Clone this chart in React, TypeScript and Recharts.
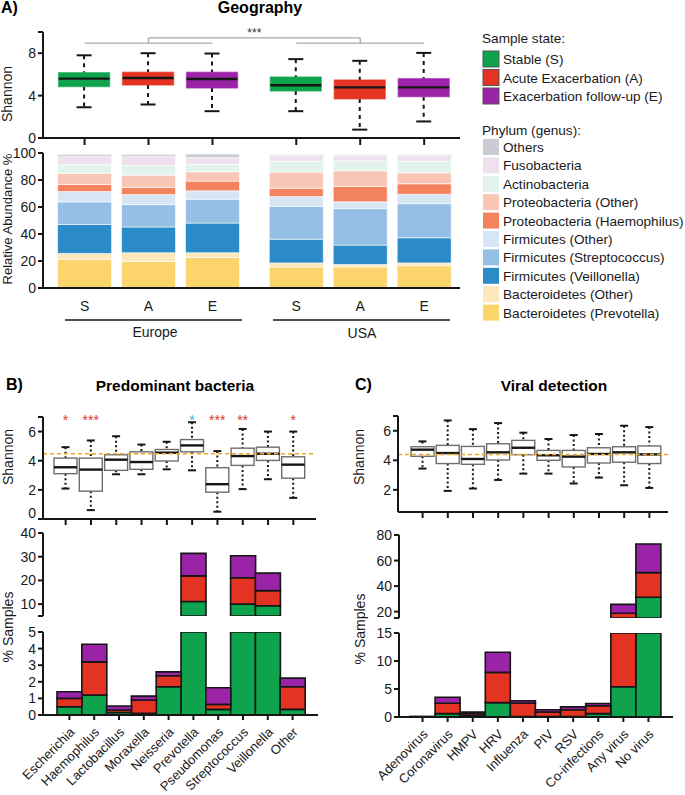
import React from 'react'
import { ComposedChart, BarChart, Bar, XAxis, YAxis, ReferenceLine } from 'recharts'

const FONT = '"Liberation Sans", Arial, Helvetica, sans-serif'

// ---------- A) Geography ----------
const geoState = ['S', 'A', 'E', 'S', 'A', 'E']
const geoPos = [1, 2, 3, 4.31, 5.31, 6.31]
const geoMin = [2.9, 3.16, 2.53, 2.53, 0.79, 1.56]
const geoQ1 = [4.85, 5.0, 4.72, 4.44, 3.69, 3.9]
const geoMed = [5.6, 5.66, 5.56, 4.97, 4.78, 4.78]
const geoQ3 = [6.16, 6.2, 6.2, 5.75, 5.47, 5.6]
const geoMax = [7.8, 8.0, 7.97, 7.44, 7.28, 8.03]

// relative abundance %, same column order as geoState (bottom of stack first)
const prevotella = [21.3, 19.6, 22.6, 15.6, 15.6, 16.6]
const bacteroidOther = [4.3, 6.5, 3.5, 3.0, 1.8, 2.0]
const veillonella = [21.5, 19.1, 22.0, 17.6, 14.4, 18.6]
const streptococcus = [16.7, 16.6, 17.7, 24.3, 27.0, 25.3]
const firmicutesOther = [7.7, 7.4, 6.2, 7.2, 5.0, 7.0]
const haemophilus = [5.2, 5.2, 7.2, 6.2, 11.4, 7.7]
const proteoOther = [8.2, 9.2, 6.9, 12.0, 11.6, 8.2]
const actinobacteria = [6.4, 7.0, 5.5, 8.1, 7.5, 8.6]
const fusobacteria = [6.0, 6.7, 4.9, 4.0, 4.0, 4.0]
const othersPhyla = [1.5, 1.5, 2.8, 0.8, 0.5, 0.8]

const phyla = [
  { key: 'prev', name: 'Bacteroidetes (Prevotella)', values: prevotella, color: '#fbd46b' },
  { key: 'bacto', name: 'Bacteroidetes (Other)', values: bacteroidOther, color: '#fce8bb' },
  { key: 'veil', name: 'Firmicutes (Veillonella)', values: veillonella, color: '#2a8bc8' },
  { key: 'strep', name: 'Firmicutes (Streptococcus)', values: streptococcus, color: '#95bfe4' },
  { key: 'firmo', name: 'Firmicutes (Other)', values: firmicutesOther, color: '#d6e6f4' },
  { key: 'haem', name: 'Proteobacteria (Haemophilus)', values: haemophilus, color: '#f3825e' },
  { key: 'proto', name: 'Proteobacteria (Other)', values: proteoOther, color: '#f9c6b6' },
  { key: 'actino', name: 'Actinobacteria', values: actinobacteria, color: '#e2f3ec' },
  { key: 'fuso', name: 'Fusobacteria', values: fusobacteria, color: '#eee0ef' },
  { key: 'oth', name: 'Others', values: othersPhyla, color: '#cbcbd5' },
]

const stateNames = ['Stable (S)', 'Acute Exacerbation (A)', 'Exacerbation follow-up (E)']
const stateColors: Record<string, string> = { S: '#0ea34c', A: '#e43322', E: '#9b23a8' }

// ---------- B) Predominant bacteria ----------
const bactNames = ['Escherichia', 'Haemophilus', 'Lactobacillus', 'Moraxella', 'Neisseria', 'Prevotella', 'Pseudomonas', 'Streptococcus', 'Veillonella', 'Other']
const bactMin = [2.09, 0.61, 3.07, 3.07, 3.41, 3.34, 0.5, 2.05, 2.73, 1.45]
const bactQ1 = [3.11, 1.91, 3.34, 3.41, 3.98, 4.61, 1.84, 3.68, 4.02, 2.8]
const bactMed = [3.55, 3.39, 4.07, 3.91, 4.55, 5.05, 2.39, 4.32, 4.48, 3.73]
const bactQ3 = [4.18, 4.18, 4.41, 4.61, 4.77, 5.45, 3.52, 4.86, 4.93, 4.27]
const bactMax = [4.93, 5.39, 5.68, 5.11, 5.3, 6.64, 4.66, 6.18, 6.0, 6.0]
const bactSig = ['*', '***', '', '', '', '*', '***', '**', '', '*']
const bactSigHigher = [false, false, false, false, false, true, false, false, false, false]
const bactShannonAll = 4.48
const bactStable = [0.5, 1.2, 0.15, 0.1, 1.7, 11.1, 0.34, 10.0, 9.3, 0.34]
const bactAcute = [0.5, 2.0, 0.15, 0.8, 0.66, 10.8, 0.3, 11.1, 6.4, 1.36]
const bactFollow = [0.4, 1.06, 0.24, 0.24, 0.24, 9.5, 1.0, 9.3, 7.4, 0.52]

// ---------- C) Viral detection ----------
const virusNames = ['Adenovirus', 'Coronavirus', 'HMPV', 'HRV', 'Influenza', 'PIV', 'RSV', 'Co-infections', 'Any virus', 'No virus']
const virusMin = [3.44, 1.93, 2.09, 2.67, 3.1, 3.1, 2.43, 2.83, 2.31, 2.13]
const virusQ1 = [4.27, 3.78, 3.73, 4.02, 4.38, 4.0, 3.55, 3.82, 3.87, 3.78]
const virusMed = [4.72, 4.49, 4.09, 4.54, 4.85, 4.34, 4.25, 4.43, 4.54, 4.4]
const virusQ3 = [4.92, 5.01, 4.94, 5.12, 5.35, 4.67, 4.67, 4.85, 4.92, 4.97]
const virusMax = [5.28, 6.7, 6.11, 6.52, 5.87, 5.44, 5.71, 5.78, 6.34, 6.25]
const virusShannonAll = 4.4
const virusStable = [0, 0.6, 0.2, 2.57, 0.1, 0.1, 0.1, 0.6, 5.4, 31.2]
const virusAcute = [0.05, 1.86, 0.4, 5.39, 2.4, 0.8, 1.2, 1.4, 13.3, 19.3]
const virusFollow = [0.05, 1.07, 0.3, 3.6, 0.4, 0.4, 0.5, 0.4, 7.0, 22.5]

// ---------- rows ----------
const boxRows = (names: string[], mn: number[], q1: number[], md: number[], q3: number[], mx: number[]) =>
  names.map((name, i) => ({ name, range: [mn[i], mx[i]], min: mn[i], q1: q1[i], med: md[i], q3: q3[i], max: mx[i] }))

const geoBoxRows = geoState.map((s, i) => ({
  pos: geoPos[i], state: s, range: [geoMin[i], geoMax[i]],
  min: geoMin[i], q1: geoQ1[i], med: geoMed[i], q3: geoQ3[i], max: geoMax[i],
}))
const geoStackRows = geoState.map((s, i) => {
  const row: any = { pos: geoPos[i], state: s }
  phyla.forEach(p => { row[p.key] = p.values[i] })
  return row
})
const bactBoxRows = boxRows(bactNames, bactMin, bactQ1, bactMed, bactQ3, bactMax)
const virusBoxRows = boxRows(virusNames, virusMin, virusQ1, virusMed, virusQ3, virusMax)
const bactBarRows = bactNames.map((name, i) => ({ name, S: bactStable[i], A: bactAcute[i], E: bactFollow[i] }))
const virusBarRows = virusNames.map((name, i) => ({ name, S: virusStable[i], A: virusAcute[i], E: virusFollow[i] }))

// ---------- styling ----------
const INK = '#161616'
const axisStyle = { stroke: INK, strokeWidth: 2 }
const tickStyle = { fontSize: 14, fill: '#1a1a1a', fontFamily: FONT }
const YW = 46
const PAD = 8

// chart box whose plot area lands on (px, py, pw, ph); xh = x axis height (0 when hidden)
function place(px: number, py: number, pw: number, ph: number, xh: number) {
  const mb = xh === 0 ? PAD : 0
  return {
    style: { position: 'absolute' as const, left: px - YW, top: py - PAD },
    width: pw + YW + PAD,
    height: ph + PAD + xh + mb,
    margin: { top: PAD, right: PAD, bottom: mb, left: 0 },
  }
}

type BoxOpts = {
  fill: (row: any, i: number) => string
  stroke: (row: any, i: number) => string
  dash: string
  cap: number
  sig?: { text: string[]; color: (i: number) => string; at: number }
}

function makeBox(o: BoxOpts) {
  return (p: any) => {
    const { x, y, width, height, payload, index } = p
    const k = height / (payload.max - payload.min)
    const py = (v: number) => y + (payload.max - v) * k
    const cx = x + width / 2
    const top = py(payload.q3)
    const bot = py(payload.q1)
    const yMax = py(payload.max)
    const yMin = py(payload.min)
    return (
      <g>
        <line x1={cx} x2={cx} y1={yMax} y2={top} stroke={INK} strokeWidth={2} strokeDasharray={o.dash} />
        <line x1={cx} x2={cx} y1={bot} y2={yMin} stroke={INK} strokeWidth={2} strokeDasharray={o.dash} />
        <line x1={cx - o.cap / 2} x2={cx + o.cap / 2} y1={yMax} y2={yMax} stroke={INK} strokeWidth={2} />
        <line x1={cx - o.cap / 2} x2={cx + o.cap / 2} y1={yMin} y2={yMin} stroke={INK} strokeWidth={2} />
        <rect x={x} y={top} width={width} height={bot - top} fill={o.fill(payload, index)} stroke={o.stroke(payload, index)} strokeWidth={1.4} />
        <line x1={x} x2={x + width} y1={py(payload.med)} y2={py(payload.med)} stroke={INK} strokeWidth={2.4} />
        {o.sig && o.sig.text[index] ? (
          <text x={cx} y={py(o.sig.at) + 8} textAnchor="middle" fontSize={14} fill={o.sig.color(index)} fontFamily={FONT}>
            {o.sig.text[index]}
          </text>
        ) : null}
      </g>
    )
  }
}

const SlantTick = (p: any) => {
  const { x, y, payload } = p
  const ax = x + 6
  const ay = y + 11
  return (
    <text x={ax} y={ay} transform={`rotate(-45 ${ax} ${ay})`} textAnchor="end" fontSize={13} fill="#1a1a1a" fontFamily={FONT}>
      {payload.value}
    </text>
  )
}

// y tick whose zero label sits a little above the axis, as drawn in the figure
const RaisedZeroTick = (p: any) => {
  const { x, y, payload } = p
  const label = payload.value === 7 ? '' : String(payload.value)
  return (
    <text x={x} y={payload.value === 0 ? y - 6 : y} dy="0.355em" textAnchor="end" fontSize={14} fill="#1a1a1a" fontFamily={FONT}>
      {label}
    </text>
  )
}

const hideTick = (v: number, skip: number[]) => (skip.includes(v) ? '' : String(v))

function StateBars() {
  return (['S', 'A', 'E'] as const).map(s => (
    <Bar key={s} dataKey={s} stackId="st" fill={stateColors[s]} stroke={INK} strokeWidth={1.6} isAnimationActive={false} />
  ))
}

export default function App() {
  const a1 = place(43, 32, 417, 106, 8)
  const a2 = place(43, 153, 417, 135, 30)
  const b1 = place(43, 417, 273, 102, 8)
  const b2 = place(43, 533, 275, 83, 0)
  const b3 = place(43, 632, 275, 83, 80)
  const c1 = place(398, 416, 270, 96, 8)
  const c2 = place(399, 535, 274, 83, 0)
  const c3 = place(399, 633, 274, 84, 78)

  const padB = { left: 14, right: 13 }
  const padC = { left: 11, right: 12 }
  const bracket = { stroke: '#a9a9a9', strokeWidth: 1.4, ifOverflow: 'visible' as const }

  return (
    <div style={{ position: 'absolute', left: 0, top: 0, width: 685, height: 795, background: '#fff', fontFamily: FONT }}>
      {/* A: Shannon by geography */}
      <div style={a1.style}>
        <ComposedChart width={a1.width} height={a1.height} margin={a1.margin} data={geoBoxRows}>
          <XAxis type="number" dataKey="pos" domain={[0.35, 6.87]} ticks={geoPos} allowDataOverflow
            height={8} tickSize={7} tickFormatter={() => ''} axisLine={axisStyle} tickLine={axisStyle} />
          <YAxis domain={[0, 10]} ticks={[0, 4, 8, 10]} interval={0} tickFormatter={v => hideTick(v, [10])} width={YW}
            tickSize={5} tick={tickStyle} axisLine={axisStyle} tickLine={axisStyle} />
          <Bar dataKey="range" barSize={51} isAnimationActive={false}
            shape={makeBox({
              fill: r => stateColors[r.state],
              stroke: r => stateColors[r.state] + '99',
              dash: '4 4',
              cap: 15,
            })} />
          <ReferenceLine segment={[{ x: 1, y: 8.95 }, { x: 3, y: 8.95 }]} {...bracket} />
          <ReferenceLine segment={[{ x: 4.31, y: 8.95 }, { x: 6.31, y: 8.95 }]} {...bracket} />
          <ReferenceLine segment={[{ x: 2, y: 8.95 }, { x: 2, y: 9.45 }]} {...bracket} />
          <ReferenceLine segment={[{ x: 5.31, y: 8.95 }, { x: 5.31, y: 9.45 }]} {...bracket} />
          <ReferenceLine segment={[{ x: 2, y: 9.45 }, { x: 5.31, y: 9.45 }]} {...bracket}
            label={{ value: '***', position: 'top', fontSize: 12, fill: '#333', offset: 1 }} />
        </ComposedChart>
      </div>

      {/* A: relative abundance */}
      <div style={a2.style}>
        <BarChart width={a2.width} height={a2.height} margin={a2.margin} data={geoStackRows}>
          <XAxis type="number" dataKey="pos" domain={[0.35, 6.87]} ticks={geoPos} allowDataOverflow height={30}
            tickSize={0} tickMargin={13} tickLine={false} axisLine={axisStyle} tick={tickStyle}
            tickFormatter={v => geoState[geoPos.indexOf(v)] ?? ''} />
          <YAxis domain={[0, 100]} ticks={[0, 20, 40, 60, 80, 100]} interval={0} width={YW} tickSize={5}
            tick={tickStyle} axisLine={axisStyle} tickLine={axisStyle} />
          {phyla.map(p => (
            <Bar key={p.key} dataKey={p.key} stackId="ab" barSize={54} fill={p.color} stroke="#fff" strokeWidth={0.6} isAnimationActive={false} />
          ))}
        </BarChart>
      </div>

      {/* B: Shannon by predominant genus */}
      <div style={b1.style}>
        <ComposedChart width={b1.width} height={b1.height} margin={b1.margin} data={bactBoxRows}>
          <XAxis dataKey="name" interval={0} padding={{ left: 10, right: 10 }} height={8} tickSize={6}
            tickFormatter={() => ''} axisLine={axisStyle} tickLine={axisStyle} />
          <YAxis domain={[0, 7]} ticks={[0, 2, 4, 6, 7]} interval={0} width={YW}
            tickSize={5} tick={<RaisedZeroTick />} axisLine={axisStyle} tickLine={axisStyle} />
          <Bar dataKey="range" barSize={23} isAnimationActive={false}
            shape={makeBox({
              fill: () => '#fff',
              stroke: () => '#6e6e6e',
              dash: '2 2.5',
              cap: 8,
              sig: { text: bactSig, color: i => (bactSigHigher[i] ? '#2fb4e6' : '#e0342b'), at: 7 },
            })} />
          <ReferenceLine y={bactShannonAll} stroke="#f5a623" strokeWidth={1.5} strokeDasharray="4 3" />
        </ComposedChart>
      </div>

      <div style={b2.style}>
        <BarChart width={b2.width} height={b2.height} margin={b2.margin} data={bactBarRows} barCategoryGap={0}>
          <XAxis dataKey="name" hide padding={padB} />
          <YAxis domain={[5, 40]} ticks={[5, 10, 20, 30, 40]} interval={0} tickFormatter={v => hideTick(v, [5])} width={YW}
            allowDataOverflow tickSize={5} tick={tickStyle} axisLine={axisStyle} tickLine={axisStyle} />
          {StateBars()}
        </BarChart>
      </div>

      <div style={b3.style}>
        <BarChart width={b3.width} height={b3.height} margin={b3.margin} data={bactBarRows} barCategoryGap={0}>
          <XAxis dataKey="name" interval={0} padding={padB} height={80} tickSize={5} tick={<SlantTick />}
            axisLine={axisStyle} tickLine={axisStyle} />
          <YAxis domain={[0, 5]} ticks={[0, 1, 2, 3, 4, 5]} interval={0} width={YW}
            allowDataOverflow tickSize={5} tick={tickStyle} axisLine={axisStyle} tickLine={axisStyle} />
          {StateBars()}
        </BarChart>
      </div>

      {/* C: Shannon by viral detection */}
      <div style={c1.style}>
        <ComposedChart width={c1.width} height={c1.height} margin={c1.margin} data={virusBoxRows}>
          <XAxis dataKey="name" interval={0} padding={{ left: 12, right: 6 }} height={8} tickSize={6}
            tickFormatter={() => ''} axisLine={axisStyle} tickLine={axisStyle} />
          <YAxis domain={[0.5, 7]} ticks={[2, 4, 6, 7]} interval={0} tickFormatter={v => hideTick(v, [7])} width={YW}
            allowDataOverflow tickSize={5} tick={tickStyle} axisLine={axisStyle} tickLine={axisStyle} />
          <Bar dataKey="range" barSize={23} isAnimationActive={false}
            shape={makeBox({ fill: () => '#fff', stroke: () => '#6e6e6e', dash: '2 2.5', cap: 8 })} />
          <ReferenceLine y={virusShannonAll} stroke="#f5a623" strokeWidth={1.5} strokeDasharray="4 3" />
        </ComposedChart>
      </div>

      <div style={c2.style}>
        <BarChart width={c2.width} height={c2.height} margin={c2.margin} data={virusBarRows} barCategoryGap={0}>
          <XAxis dataKey="name" hide padding={padC} />
          <YAxis domain={[15, 80]} ticks={[15, 20, 40, 60, 80]} interval={0} tickFormatter={v => hideTick(v, [15])} width={YW}
            allowDataOverflow tickSize={5} tick={tickStyle} axisLine={axisStyle} tickLine={axisStyle} />
          {StateBars()}
        </BarChart>
      </div>

      <div style={c3.style}>
        <BarChart width={c3.width} height={c3.height} margin={c3.margin} data={virusBarRows} barCategoryGap={0}>
          <XAxis dataKey="name" interval={0} padding={padC} height={78} tickSize={5} tick={<SlantTick />}
            axisLine={axisStyle} tickLine={axisStyle} />
          <YAxis domain={[0, 15]} ticks={[0, 5, 10, 15]} interval={0} width={YW}
            allowDataOverflow tickSize={5} tick={tickStyle} axisLine={axisStyle} tickLine={axisStyle} />
          {StateBars()}
        </BarChart>
      </div>

      {/* titles, axis titles, group labels, legend */}
      <svg width={685} height={795} style={{ position: 'absolute', left: 0, top: 0, pointerEvents: 'none' }} fontFamily={FONT}>
        <text x={1} y={13} fontSize={16} fontWeight="bold">A)</text>
        <text x={260} y={13} fontSize={16} fontWeight="bold" textAnchor="middle">Geography</text>
        <text x={6} y={390} fontSize={16} fontWeight="bold">B)</text>
        <text x={175} y={391} fontSize={15.5} fontWeight="bold" textAnchor="middle">Predominant bacteria</text>
        <text x={355} y={390} fontSize={16} fontWeight="bold">C)</text>
        <text x={554} y={391} fontSize={15.5} fontWeight="bold" textAnchor="middle">Viral detection</text>

        <text transform="translate(12 94) rotate(-90)" fontSize={14} textAnchor="middle" fill="#1a1a1a">Shannon</text>
        <text transform="translate(12 219) rotate(-90)" fontSize={13} textAnchor="middle" fill="#1a1a1a">Relative Abundance %</text>
        <text transform="translate(13 457) rotate(-90)" fontSize={14} textAnchor="middle" fill="#1a1a1a">Shannon</text>
        <text transform="translate(13 627) rotate(-90)" fontSize={14} textAnchor="middle" fill="#1a1a1a">% Samples</text>
        <text transform="translate(364 457) rotate(-90)" fontSize={14} textAnchor="middle" fill="#1a1a1a">Shannon</text>
        <text transform="translate(365 629) rotate(-90)" fontSize={14} textAnchor="middle" fill="#1a1a1a">% Samples</text>

        <line x1={65} x2={242} y1={320} y2={320} stroke={INK} strokeWidth={1.5} />
        <text x={155} y={337} fontSize={14} textAnchor="middle" fill="#1a1a1a">Europe</text>
        <line x1={273} x2={450} y1={320} y2={320} stroke={INK} strokeWidth={1.5} />
        <text x={362} y={338} fontSize={14} textAnchor="middle" fill="#1a1a1a">USA</text>

        <text x={482} y={43} fontSize={13.6} fill="#1a1a1a">Sample state:</text>
        {(['S', 'A', 'E'] as const).map((s, i) => (
          <g key={s}>
            <rect x={483} y={51 + i * 18.5} width={16} height={16} fill={stateColors[s]} stroke="#555" strokeWidth={1} />
            <text x={503} y={64 + i * 18.5} fontSize={13.6} fill="#1a1a1a">{stateNames[i]}</text>
          </g>
        ))}
        <text x={482} y={135} fontSize={13.6} fill="#1a1a1a">Phylum (genus):</text>
        {[...phyla].reverse().map((p, i) => (
          <g key={p.key}>
            <rect x={483} y={139 + i * 18.4} width={16} height={16} fill={p.color} />
            <text x={503} y={152 + i * 18.4} fontSize={13.6} fill="#1a1a1a">{p.name}</text>
          </g>
        ))}
      </svg>
    </div>
  )
}
